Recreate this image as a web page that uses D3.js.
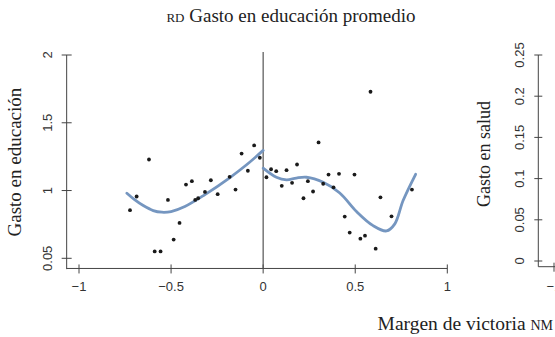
<!DOCTYPE html>
<html>
<head>
<meta charset="utf-8">
<script src="https://cdn.jsdelivr.net/npm/d3@7"></script>
<style>
  html, body { margin: 0; padding: 0; background: #fff; }
  svg { display: block; }
  .serif { font-family: "Liberation Serif", "DejaVu Serif", serif; fill: #222; }
  .tick-label { font-family: "Liberation Sans", "Noto Sans", sans-serif; font-size: 13px; fill: #333; }
</style>
</head>
<body>
<svg id="chart" width="555" height="337"></svg>
<script>
// Observations: margin of victory (x) vs. average education spending (y)
const marginX = [-0.723, -0.687, -0.620, -0.589, -0.557, -0.517, -0.486, -0.454, -0.419, -0.387,
  -0.369, -0.353, -0.316, -0.284, -0.247, -0.182, -0.150, -0.117, -0.083, -0.049, -0.018,
  0.018, 0.043, 0.071, 0.101, 0.127, 0.157, 0.184, 0.219, 0.243, 0.271, 0.301, 0.326,
  0.355, 0.382, 0.412, 0.443, 0.470, 0.496, 0.528, 0.553, 0.583, 0.611, 0.637, 0.697, 0.808];
const gastoEdu = [0.855, 0.956, 1.229, 0.551, 0.551, 0.931, 0.638, 0.761, 1.044, 1.069,
  0.931, 0.943, 0.990, 1.076, 0.973, 1.101, 1.007, 1.273, 1.146, 1.333, 1.242,
  1.098, 1.157, 1.143, 1.035, 1.150, 1.057, 1.192, 0.943, 1.069, 0.993, 1.355, 1.050,
  1.118, 1.024, 1.123, 0.808, 0.690, 1.118, 0.645, 0.667, 1.729, 0.571, 0.950, 0.810, 1.007];

// Smoothed fit on each side of the threshold
const fitLeftX = [-0.74, -0.70, -0.651, -0.597, -0.55, -0.50, -0.425, -0.316, -0.182, -0.09, 0];
const fitLeftY = [0.98, 0.935, 0.889, 0.852, 0.840, 0.845, 0.882, 0.970, 1.094, 1.19, 1.296];
const fitRightX = [0, 0.072, 0.127, 0.18, 0.235, 0.326, 0.416, 0.507, 0.597, 0.670, 0.715, 0.760, 0.828];
const fitRightY = [1.165, 1.098, 1.079, 1.092, 1.098, 1.061, 0.982, 0.845, 0.741, 0.702, 0.754, 0.926, 1.12];

// Axis ticks and their labels
const xTicks = [-1, -0.5, 0, 0.5, 1];
const xTickLabels = ["\u22121", "\u22120.5", "0", "0.5", "1"];
const yTicks = [0.5, 1, 1.5, 2];
const yTickLabels = ["0.05", "1", "1.5", "2"];
const saludTicks = [0, 0.05, 0.1, 0.15, 0.2, 0.25];
const saludTickLabels = ["0", "0.05", "0.1", "0.15", "0.2", "0.25"];

const svg = d3.select("#chart");
const axisColor = "#444";
const fitColor = "#7596c0";

// ---- Left panel: education spending ----
const x = d3.scaleLinear().domain([-1, 1]).range([79, 447.3]);
const y = d3.scaleLinear().domain([0.5, 2]).range([258.3, 55]);
const xAxisY = y(0.425);
const yAxisX = x(-1.067);

// spines
svg.append("line").attr("x1", yAxisX).attr("x2", yAxisX)
  .attr("y1", y(2)).attr("y2", y(0.42))
  .attr("stroke", axisColor).attr("stroke-width", 1);
svg.append("line").attr("x1", yAxisX).attr("x2", x(1))
  .attr("y1", xAxisY).attr("y2", xAxisY)
  .attr("stroke", axisColor).attr("stroke-width", 1);

// y ticks (crossing the spine)
const gy = svg.append("g");
gy.selectAll("line").data(yTicks).join("line")
  .attr("x1", yAxisX - 5).attr("x2", yAxisX + 5)
  .attr("y1", d => y(d)).attr("y2", d => y(d))
  .attr("stroke", axisColor);
gy.selectAll("text").data(yTicks).join("text")
  .attr("class", "tick-label")
  .attr("transform", d => `translate(${yAxisX - 15},${y(d)}) rotate(-90)`)
  .attr("text-anchor", "middle")
  .text((d, i) => yTickLabels[i]);

// x ticks
const gx = svg.append("g");
gx.selectAll("line").data(xTicks).join("line")
  .attr("x1", d => x(d)).attr("x2", d => x(d))
  .attr("y1", xAxisY - 4).attr("y2", xAxisY + 5)
  .attr("stroke", axisColor);
gx.selectAll("text").data(xTicks).join("text")
  .attr("class", "tick-label")
  .attr("x", d => x(d)).attr("y", xAxisY + 23)
  .attr("text-anchor", "middle")
  .text((d, i) => xTickLabels[i]);

// threshold line at zero margin
svg.append("line").attr("x1", x(0)).attr("x2", x(0))
  .attr("y1", 52).attr("y2", xAxisY)
  .attr("stroke", "#555").attr("stroke-width", 1.2);

// fitted curves
const line = d3.line().x(d => x(d[0])).y(d => y(d[1])).curve(d3.curveCatmullRom.alpha(0.5));
svg.append("path").datum(d3.zip(fitLeftX, fitLeftY))
  .attr("d", line).attr("fill", "none").attr("stroke", fitColor)
  .attr("stroke-width", 2.8).attr("stroke-linecap", "round");
svg.append("path").datum(d3.zip(fitRightX, fitRightY))
  .attr("d", line).attr("fill", "none").attr("stroke", fitColor)
  .attr("stroke-width", 2.8).attr("stroke-linecap", "round");

// observations
svg.append("g").selectAll("circle").data(d3.zip(marginX, gastoEdu)).join("circle")
  .attr("cx", d => x(d[0])).attr("cy", d => y(d[1])).attr("r", 1.9)
  .attr("fill", "#1a1a1a");

// y title
svg.append("text").attr("class", "serif")
  .attr("transform", `translate(21,${(y(2) + y(0.42)) / 2}) rotate(-90)`)
  .attr("text-anchor", "middle").attr("font-size", 19)
  .text("Gasto en educación");

// chart title
const title = svg.append("text").attr("class", "serif")
  .attr("x", 291).attr("y", 22).attr("text-anchor", "middle").attr("font-size", 19);
title.append("tspan").style("font-variant", "small-caps").text("rd");
title.append("tspan").text(" Gasto en educación promedio");

// x title
const xt = svg.append("text").attr("class", "serif")
  .attr("x", 553).attr("y", 330).attr("text-anchor", "end").attr("font-size", 19.5);
xt.append("tspan").text("Margen de victoria ");
xt.append("tspan").style("font-variant", "small-caps").text("nm");

// ---- Right panel (partially visible): health spending ----
const y2 = d3.scaleLinear().domain([0, 0.25]).range([261, 55]);
const axis2X = 538.3;
const xAxis2Y = 266.7;
svg.append("line").attr("x1", axis2X).attr("x2", axis2X)
  .attr("y1", y2(0.25)).attr("y2", xAxis2Y).attr("stroke", axisColor);
svg.append("line").attr("x1", axis2X).attr("x2", 555)
  .attr("y1", xAxis2Y).attr("y2", xAxis2Y).attr("stroke", axisColor);
svg.append("line").attr("x1", 554).attr("x2", 554)
  .attr("y1", xAxis2Y - 4).attr("y2", xAxis2Y + 5).attr("stroke", axisColor);
svg.append("text").attr("class", "tick-label")
  .attr("x", 554).attr("y", xAxis2Y + 24).attr("text-anchor", "middle").text("\u22121");
const g2 = svg.append("g");
g2.selectAll("line").data(saludTicks).join("line")
  .attr("x1", axis2X - 4).attr("x2", axis2X + 4)
  .attr("y1", d => y2(d)).attr("y2", d => y2(d)).attr("stroke", axisColor);
g2.selectAll("text").data(saludTicks).join("text")
  .attr("class", "tick-label")
  .attr("transform", d => `translate(${axis2X - 14},${y2(d)}) rotate(-90)`)
  .attr("text-anchor", "middle")
  .text((d, i) => saludTickLabels[i]);
svg.append("text").attr("class", "serif")
  .attr("transform", `translate(490,${(y2(0.25) + y2(0)) / 2 - 4}) rotate(-90)`)
  .attr("text-anchor", "middle").attr("font-size", 18)
  .text("Gasto en salud");
</script>
</body>
</html>
